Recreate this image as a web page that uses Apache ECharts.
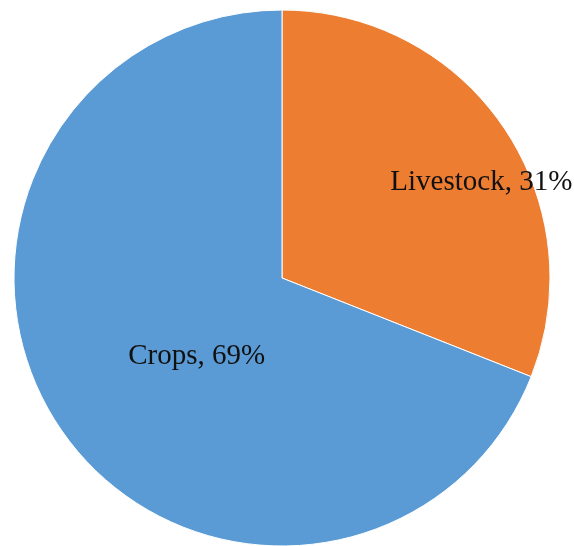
<!DOCTYPE html>
<html>
<head>
<meta charset="utf-8">
<script src="https://cdn.jsdelivr.net/npm/echarts@6/dist/echarts.min.js"></script>
<style>html,body{margin:0;padding:0;background:#fff;}#c{width:574px;height:546px;}</style>
</head>
<body>
<div id="c"></div>
<script>
const categories = ['Livestock', 'Crops'];
const values = [31, 69];
const colors = ['#ED7D31', '#5B9BD5'];
const labelOffsets = [[86, -19], [28, 1]];

const chart = echarts.init(document.getElementById('c'), null, {renderer: 'canvas'});
chart.setOption({
  animation: false,
  backgroundColor: '#ffffff',
  series: [{
    type: 'pie',
    center: [282, 278],
    radius: [0, 268],
    startAngle: 90,
    clockwise: true,
    itemStyle: {borderColor: '#ffffff', borderWidth: 1},
    label: {
      position: 'inside',
      formatter: p => p.name + ', ' + p.value + '%',
      fontFamily: '"Liberation Serif", "Times New Roman", serif',
      fontSize: 29,
      color: '#111111'
    },
    labelLine: {show: false},
    emphasis: {disabled: true},
    data: categories.map((c, i) => ({
      name: c,
      value: values[i],
      itemStyle: {color: colors[i]},
      label: {offset: labelOffsets[i]}
    }))
  }]
});
</script>
</body>
</html>
